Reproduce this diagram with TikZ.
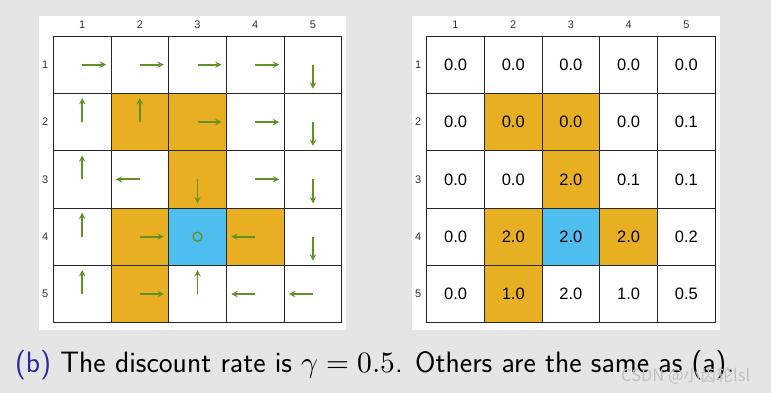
\documentclass[tikz,border=0pt]{standalone}
\usepackage{fontspec}
\usepackage{unicode-math}
\newfontfamily\gridfont{Liberation Sans}
\newfontfamily\cjk{Noto Sans CJK SC}
\usetikzlibrary{arrows}

\definecolor{bgGray}{RGB}{229,229,229}
\definecolor{cellOrange}{RGB}{233,175,34}
\definecolor{cellBlue}{RGB}{77,190,238}
\definecolor{arrowGreen}{RGB}{99,145,40}
\definecolor{capBlue}{RGB}{40,40,160}
\definecolor{markGray}{RGB}{192,192,192}

\tikzstyle{cell} = [rectangle, minimum width=57.7pt, minimum height=57.3pt, inner sep=0pt, outer sep=0pt, draw=black!85, line width=0.8pt, fill=white]
\tikzstyle{axis} = [font=\gridfont\fontsize{11}{13}\selectfont, text=black!80, inner sep=0pt]
\tikzstyle{value} = [font=\gridfont\fontsize{16.5}{20}\selectfont]
\tikzstyle{arrow} = [line width=1.8pt, ->, >=stealth, draw=arrowGreen]
\tikzset{
  paint 2-2/.style={fill=cellOrange}, paint 2-3/.style={fill=cellOrange},
  paint 3-3/.style={fill=cellOrange}, paint 4-2/.style={fill=cellOrange},
  paint 4-4/.style={fill=cellOrange}, paint 5-2/.style={fill=cellOrange},
  paint 4-3/.style={fill=cellBlue}
}

\begin{document}
\begin{tikzpicture}[x=1pt, y=-1pt]
\fill [bgGray] (0,0) rectangle (771,393);
\useasboundingbox (0,0) rectangle (771,393);
\fill [white] (39,16) rectangle (346,330);
\fill [white] (412,16) rectangle (720,330);

% policy grid (left) and state values (right)
\foreach \r/\vals in {1/{0.0,0.0,0.0,0.0,0.0}, 2/{0.0,0.0,0.0,0.0,0.1}, 3/{0.0,0.0,2.0,0.1,0.1}, 4/{0.0,2.0,2.0,2.0,0.2}, 5/{0.0,1.0,2.0,1.0,0.5}}
  \foreach \v [count=\c] in \vals {
    \node (L-\r-\c) [cell, paint \r-\c/.try] at ({53.3+(\c-0.5)*57.7}, {36+(\r-0.5)*57.34}) {};
    \node (R-\r-\c) [cell, value, paint \r-\c/.try] at ({426.7+(\c-0.5)*57.7}, {36+(\r-0.5)*57.34}) {\v};
  }

\foreach \i in {1,...,5} {
  \node (Lcol-\i) [axis, yshift=11pt] at (L-1-\i.north) {\i};
  \node (Rcol-\i) [axis, yshift=11pt] at (R-1-\i.north) {\i};
  \node (Lrow-\i) [axis, xshift=-8pt] at (L-\i-1.west) {\i};
  \node (Rrow-\i) [axis, xshift=-8.5pt] at (R-\i-1.west) {\i};
}

% actions
\foreach \r/\c/\dx/\dy in {1/1/24/0, 1/2/24/0, 1/3/24/0, 1/4/24/0, 1/5/0/24,
    2/1/0/-24, 2/2/0/-24, 2/3/24/0, 2/4/24/0, 2/5/0/24,
    3/1/0/-24, 3/2/-24/0, 3/3/0/24, 3/4/24/0, 3/5/0/24,
    4/1/0/-24, 4/2/24/0, 4/4/-24/0, 4/5/0/24,
    5/1/0/-24, 5/2/24/0, 5/3/0/-24, 5/4/-24/0, 5/5/-24/0}
  \draw [arrow] (L-\r-\c.center) -- ++(\dx,\dy);
\node (stay) [circle, draw=arrowGreen, line width=1.3pt, minimum size=9pt, inner sep=0pt] at (L-4-3) {};

\node (caption) [anchor=base west, inner sep=0pt, font=\sffamily\fontsize{29.5}{35}\selectfont] at (15,372.5) {\textcolor{capBlue}{(b)} The discount rate is $\gamma=0.5$. Others are the same as (a).};
\node (mark) [anchor=base west, inner sep=0pt, text=markGray, font=\cjk\fontsize{16.5}{18}\selectfont] at (621,381) {CSDN @小齿轮lsl};
\end{tikzpicture}
\end{document}
